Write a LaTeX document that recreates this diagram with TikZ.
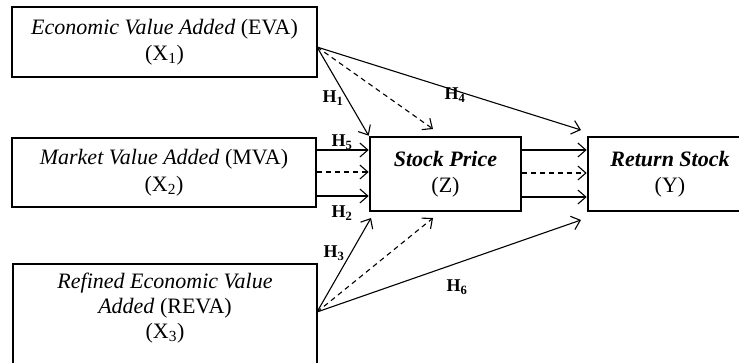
\documentclass[tikz,border=0pt]{standalone}
\usepackage{fontspec}
\setmainfont{Liberation Serif}
\usetikzlibrary{arrows.meta}
\begin{document}
\begin{tikzpicture}[x=1pt,y=-1pt,
  box/.style={draw,line width=2.6pt,inner sep=0pt,align=center,font=\fontsize{22}{26.5}\selectfont},
  txt/.style={align=center,inner sep=0pt,font=\fontsize{22}{25}\selectfont},
  conn/.style={line width=1.1pt,-{Straight Barb[length=8pt,width=14pt,line width=1.1pt]}},
  dconn/.style={conn,dash pattern=on 5pt off 4pt},
  hl/.style={inner sep=0pt,font=\fontsize{18}{20}\selectfont\bfseries}]
\useasboundingbox (0,0) rectangle (739,362);
\clip (0,0) rectangle (739,362);
% boxes
\node[box,minimum width=305pt,minimum height=70pt] (x1) at (164.5,42)
  {\textit{Economic Value Added} (EVA)\\(X\textsubscript{1})};
\node[box,minimum width=304pt,minimum height=69pt] (x2) at (164,172.5)
  {\textit{Market Value Added} (MVA)\\(X\textsubscript{2})};
\node[box,minimum width=304pt,minimum height=110pt] (x3) at (165,319) {};
\node[txt] (x3t) at (165,308)
  {\textit{Refined Economic Value}\\\textit{Added} (REVA)\\(X\textsubscript{3})};
\node[box,minimum width=151pt,minimum height=74pt] (z) at (445.5,174)
  {\textbf{\textit{Stock Price}}\\(Z)};
\node[box,minimum width=164pt,minimum height=74pt] (y) at (670,174)
  {\textbf{\textit{Return Stock}}\\(Y)};
% free ends
\coordinate (o1) at (317,47);
\coordinate (o3) at (317,312);
\coordinate (t1) at (433,129);
\coordinate (t4) at (581,130);
\coordinate (t3) at (371,218);
\coordinate (t5) at (433,218);
\coordinate (t6) at (581,220);
% from X1
\draw[conn] (o1) -- (z.north west);
\draw[dconn] (o1) -- (t1);
\draw[conn] (o1) -- (t4);
% from X3
\draw[conn] (o3) -- (t3);
\draw[dconn] (o3) -- (t5);
\draw[conn] (o3) -- (t6);
% X2 to Z
\draw[conn] ([yshift=22.5pt]x2.east) -- ([yshift=22.5pt]x2.east -| z.west);
\draw[dconn] ([yshift=0.5pt]x2.east) -- ([yshift=0.5pt]x2.east -| z.west);
\draw[conn] ([yshift=-23.5pt]x2.east) -- ([yshift=-23.5pt]x2.east -| z.west);
% Z to Y
\draw[conn] ([yshift=24pt]z.east) -- ([yshift=24pt]z.east -| y.west);
\draw[dconn] ([yshift=1pt]z.east) -- ([yshift=1pt]z.east -| y.west);
\draw[conn] ([yshift=-23pt]z.east) -- ([yshift=-23pt]z.east -| y.west);
% labels
\node[hl] (h1) at (333,98) {H\textsubscript{1}};
\node[hl] (h5) at (342,142) {H\textsubscript{5}};
\node[hl] (h2) at (342,213) {H\textsubscript{2}};
\node[hl] (h3) at (334,253) {H\textsubscript{3}};
\node[hl] (h4) at (455,95) {H\textsubscript{4}};
\node[hl] (h6) at (457,287) {H\textsubscript{6}};
\end{tikzpicture}
\end{document}
